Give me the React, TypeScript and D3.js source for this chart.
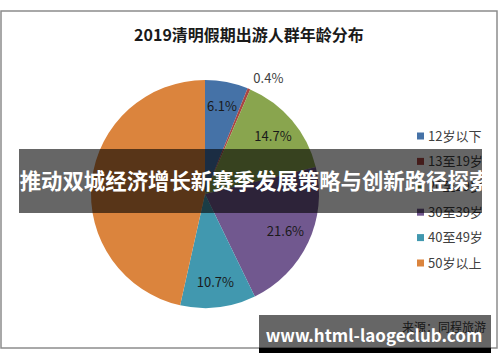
import React, { useRef, useEffect } from 'react';
import * as d3 from 'd3';

const categories = ['12岁以下', '13至19岁', '20至29岁', '30至39岁', '40至49岁', '50岁以上'];
const shares = [6.1, 0.4, 14.7, 21.6, 10.7, 46.5];
const colors = ['#4572A7', '#AA4643', '#89A54E', '#71588F', '#4198AF', '#DB843D'];
// the reference shows no label on the largest slice (hidden under the banner)
const showLabel = [true, true, true, true, true, false];

const title = '2019清明假期出游人群年龄分布';
const source = '来源：同程旅游';
const bannerText = '推动双城经济增长新赛季发展策略与创新路径探索';
const watermark = 'www.html-laogeclub.com';

const FONT = '"Noto Sans CJK SC", "Noto Sans", sans-serif';

export default function App() {
  const ref = useRef<SVGSVGElement>(null);

  useEffect(() => {
    const svg = d3.select(ref.current);
    svg.selectAll('*').remove();

    const W = 500;
    const H = 362;
    const cx = 205;
    const cy = 194;
    const radius = 114;

    svg.attr('width', W).attr('height', H).attr('viewBox', `0 0 ${W} ${H}`);

    svg.append('rect').attr('width', W).attr('height', H).attr('fill', '#fff');

    // chart frame
    svg.append('rect')
      .attr('x', 1).attr('y', 11).attr('width', 496).attr('height', 337)
      .attr('fill', '#fff').attr('stroke', '#8c8c8c').attr('stroke-width', 1.5);

    svg.append('text')
      .attr('x', 249).attr('y', 41)
      .attr('text-anchor', 'middle')
      .style('font-family', FONT).style('font-size', '16px').style('font-weight', 700)
      .attr('fill', '#1a1a1a')
      .text(title);

    const data = categories.map((c, i) => ({ name: c, value: shares[i], color: colors[i], label: showLabel[i] }));
    const pie = d3.pie<any>().value(d => d.value).sort(null);
    const arcs = pie(data);

    const arc = d3.arc<any>().innerRadius(0).outerRadius(radius);
    const labelArc = d3.arc<any>().innerRadius(radius * 0.78).outerRadius(radius * 0.78);
    const outerArc = d3.arc<any>().innerRadius(radius * 1.1).outerRadius(radius * 1.1);

    const g = svg.append('g').attr('transform', `translate(${cx},${cy})`);

    g.selectAll('path')
      .data(arcs)
      .join('path')
      .attr('d', arc)
      .attr('fill', d => d.data.color);

    g.selectAll('text')
      .data(arcs.filter(d => d.data.label))
      .join('text')
      .attr('transform', d => {
        const small = d.data.value < 2;
        const [x, y] = small ? outerArc.centroid(d) : labelArc.centroid(d);
        return `translate(${x},${y})`;
      })
      .attr('text-anchor', d => (d.data.value < 2 ? 'start' : 'middle'))
      .attr('dy', '0.35em')
      .style('font-family', FONT).style('font-size', '13px')
      .attr('fill', d => (d.data.value < 2 ? '#404040' : '#1a1a1a'))
      .text(d => `${d.data.value.toFixed(1)}%`);

    // legend
    const legend = svg.append('g').attr('transform', 'translate(417,136)');
    const item = legend.selectAll('g')
      .data(data)
      .join('g')
      .attr('transform', (_d, i) => `translate(0,${i * 25.4})`);
    item.append('rect')
      .attr('x', 0).attr('y', -3.5).attr('width', 7).attr('height', 7)
      .attr('fill', d => d.color);
    item.append('text')
      .attr('x', 11).attr('dy', '0.36em')
      .style('font-family', FONT).style('font-size', '13px')
      .attr('fill', '#404040')
      .text(d => d.name);

    svg.append('text')
      .attr('x', 486).attr('y', 332)
      .attr('text-anchor', 'end')
      .style('font-family', FONT).style('font-size', '12px')
      .attr('fill', '#404040')
      .text(source);

    // middle banner
    svg.append('rect')
      .attr('x', 19).attr('y', 149).attr('width', 463).attr('height', 64)
      .attr('fill', 'rgba(0,0,0,0.6)');
    svg.append('text')
      .attr('x', 255).attr('y', 189)
      .attr('text-anchor', 'middle')
      .style('font-family', FONT).style('font-size', '21.4px').style('font-weight', 700)
      .attr('fill', '#fff')
      .text(bannerText);

    // watermark
    svg.append('rect')
      .attr('x', 259).attr('y', 348).attr('width', 232).attr('height', 5)
      .attr('fill', '#000');
    svg.append('rect')
      .attr('x', 259).attr('y', 315).attr('width', 232).attr('height', 33)
      .attr('fill', 'rgba(0,0,0,0.6)');
    svg.append('text')
      .attr('x', 374).attr('y', 342)
      .attr('text-anchor', 'middle')
      .style('font-family', FONT).style('font-size', '17px').style('font-weight', 700)
      .attr('fill', '#fff')
      .text(watermark);
  }, []);

  return <svg ref={ref} style={{ position: 'absolute', left: 0, top: 0, display: 'block' }} />;
}
